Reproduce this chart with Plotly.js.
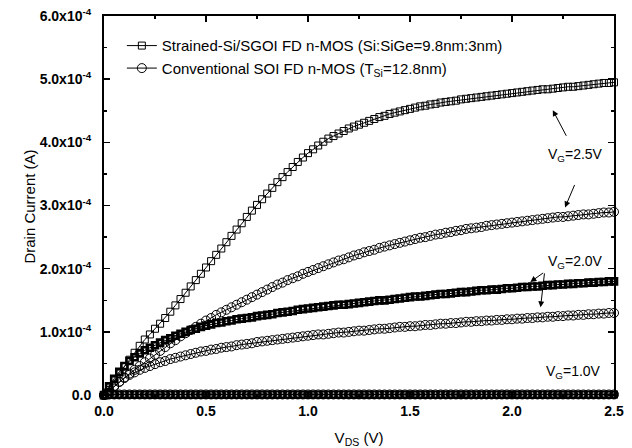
<!DOCTYPE html>
<html><head><meta charset="utf-8">
<script src="https://cdn.plot.ly/plotly-3.0.1.min.js"></script>
<style>html,body{margin:0;padding:0;background:#fff}#chart{width:632px;height:448px}</style>
</head><body><div id="chart"></div>
<script>
// Drain voltage grid (V)
const vds = [0,
 0.025,0.05,0.075,0.1, 0.125,0.15,0.175,0.2, 0.225,0.25,0.275,0.3, 0.325,0.35,0.375,0.4, 0.425,0.45,0.475,0.5,
 0.525,0.55,0.575,0.6, 0.625,0.65,0.675,0.7, 0.725,0.75,0.775,0.8, 0.825,0.85,0.875,0.9, 0.925,0.95,0.975,1.0,
 1.025,1.05,1.075,1.1, 1.125,1.15,1.175,1.2, 1.225,1.25,1.275,1.3, 1.325,1.35,1.375,1.4, 1.425,1.45,1.475,1.5,
 1.525,1.55,1.575,1.6, 1.625,1.65,1.675,1.7, 1.725,1.75,1.775,1.8, 1.825,1.85,1.875,1.9, 1.925,1.95,1.975,2.0,
 2.025,2.05,2.075,2.1, 2.125,2.15,2.175,2.2, 2.225,2.25,2.275,2.3, 2.325,2.35,2.375,2.4, 2.425,2.45,2.475,2.5];

// Drain currents in units of 1e-4 A
const strainedVG25 = [0.00,
 0.12,0.23,0.34,0.45, 0.56,0.67,0.78,0.88, 0.96,1.05,1.13,1.22, 1.32,1.42,1.52,1.62, 1.72,1.82,1.92,2.02,
 2.12,2.22,2.32,2.42, 2.52,2.62,2.72,2.82, 2.92,3.01,3.10,3.19, 3.28,3.37,3.45,3.53, 3.61,3.69,3.76,3.83,
 3.89,3.95,4.01,4.06, 4.10,4.14,4.18,4.22, 4.25,4.28,4.31,4.34, 4.37,4.40,4.42,4.45, 4.47,4.49,4.51,4.53,
 4.55,4.57,4.58,4.60, 4.61,4.63,4.64,4.65, 4.66,4.68,4.69,4.70, 4.71,4.72,4.73,4.74, 4.75,4.76,4.77,4.78,
 4.79,4.80,4.81,4.82, 4.83,4.84,4.84,4.85, 4.86,4.87,4.88,4.88, 4.89,4.90,4.91,4.92, 4.93,4.94,4.94,4.95];

const convVG25 = [0.00,
 0.07,0.14,0.21,0.28, 0.34,0.40,0.46,0.52, 0.58,0.64,0.70,0.76, 0.82,0.87,0.93,0.98, 1.03,1.08,1.13,1.18,
 1.22,1.27,1.31,1.35, 1.39,1.43,1.47,1.51, 1.55,1.59,1.63,1.67, 1.71,1.75,1.78,1.82, 1.85,1.88,1.92,1.95,
 1.98,2.01,2.04,2.07, 2.10,2.13,2.15,2.18, 2.21,2.23,2.26,2.28, 2.30,2.33,2.35,2.37, 2.39,2.41,2.43,2.45,
 2.47,2.49,2.50,2.52, 2.54,2.55,2.57,2.58, 2.60,2.61,2.63,2.64, 2.65,2.66,2.68,2.69, 2.70,2.71,2.72,2.73,
 2.74,2.75,2.76,2.77, 2.78,2.79,2.80,2.81, 2.82,2.82,2.83,2.84, 2.85,2.86,2.86,2.87, 2.88,2.89,2.89,2.90];

const strainedVG20 = [0.00,
 0.14,0.26,0.37,0.46, 0.54,0.60,0.66,0.71, 0.75,0.79,0.83,0.87, 0.90,0.94,0.97,1.00, 1.03,1.05,1.08,1.10,
 1.12,1.14,1.15,1.17, 1.18,1.20,1.21,1.22, 1.23,1.25,1.26,1.27, 1.28,1.30,1.31,1.32, 1.33,1.35,1.36,1.37,
 1.38,1.39,1.40,1.41, 1.42,1.43,1.43,1.44, 1.45,1.46,1.47,1.48, 1.49,1.50,1.50,1.51, 1.52,1.53,1.54,1.55,
 1.56,1.56,1.57,1.58, 1.59,1.60,1.60,1.61, 1.62,1.63,1.63,1.64, 1.65,1.66,1.66,1.67, 1.67,1.68,1.69,1.69,
 1.70,1.71,1.71,1.72, 1.72,1.73,1.74,1.74, 1.75,1.75,1.76,1.76, 1.77,1.77,1.78,1.78, 1.79,1.79,1.80,1.80];

const convVG20 = [0.00,
 0.07,0.14,0.21,0.27, 0.32,0.36,0.40,0.43, 0.46,0.49,0.52,0.54, 0.57,0.59,0.61,0.63, 0.65,0.67,0.69,0.70,
 0.72,0.73,0.75,0.76, 0.77,0.79,0.80,0.81, 0.82,0.84,0.85,0.86, 0.87,0.88,0.89,0.90, 0.91,0.92,0.93,0.94,
 0.95,0.96,0.96,0.97, 0.98,0.99,0.99,1.00, 1.01,1.02,1.02,1.03, 1.04,1.05,1.05,1.06, 1.07,1.08,1.08,1.09,
 1.09,1.10,1.11,1.11, 1.12,1.13,1.13,1.14, 1.14,1.15,1.16,1.16, 1.17,1.17,1.18,1.18, 1.19,1.19,1.20,1.20,
 1.21,1.21,1.22,1.22, 1.23,1.23,1.24,1.24, 1.25,1.25,1.26,1.26, 1.27,1.27,1.28,1.28, 1.29,1.29,1.30,1.30];

const strainedVG10 = [0.00,
 0.01,0.01,0.01,0.01, 0.01,0.01,0.01,0.01, 0.01,0.01,0.01,0.01, 0.01,0.01,0.01,0.01, 0.01,0.01,0.01,0.01,
 0.01,0.01,0.01,0.01, 0.01,0.01,0.01,0.01, 0.01,0.01,0.01,0.01, 0.01,0.01,0.01,0.01, 0.01,0.01,0.01,0.01,
 0.01,0.01,0.01,0.01, 0.01,0.01,0.01,0.01, 0.01,0.01,0.01,0.01, 0.01,0.01,0.01,0.01, 0.01,0.01,0.01,0.01,
 0.01,0.01,0.01,0.01, 0.01,0.01,0.01,0.01, 0.01,0.01,0.01,0.01, 0.01,0.01,0.01,0.01, 0.01,0.01,0.01,0.01,
 0.01,0.01,0.01,0.01, 0.01,0.01,0.01,0.01, 0.01,0.01,0.01,0.01, 0.01,0.01,0.01,0.01, 0.01,0.01,0.01,0.01];

const convVG10 = [0.00,
 0.01,0.01,0.01,0.01, 0.01,0.01,0.01,0.01, 0.01,0.01,0.01,0.01, 0.01,0.01,0.01,0.01, 0.01,0.01,0.01,0.01,
 0.01,0.01,0.01,0.01, 0.01,0.01,0.01,0.01, 0.01,0.01,0.01,0.01, 0.01,0.01,0.01,0.01, 0.01,0.01,0.01,0.01,
 0.01,0.01,0.01,0.01, 0.01,0.01,0.01,0.01, 0.01,0.01,0.01,0.01, 0.01,0.01,0.01,0.01, 0.01,0.01,0.01,0.01,
 0.01,0.01,0.01,0.01, 0.01,0.01,0.01,0.01, 0.01,0.01,0.01,0.01, 0.01,0.01,0.01,0.01, 0.01,0.01,0.01,0.01,
 0.01,0.01,0.01,0.01, 0.01,0.01,0.01,0.01, 0.01,0.01,0.01,0.01, 0.01,0.01,0.01,0.01, 0.01,0.01,0.01,0.01];

const legendNames = [
 "Strained-Si/SGOI FD n-MOS (Si:SiGe=9.8nm:3nm)",
 "Conventional SOI FD n-MOS (T<sub>Si</sub>=12.8nm)"
];
const yTickVals = [0, 1e-4, 2e-4, 3e-4, 4e-4, 5e-4, 6e-4];
const yTickText = ["0.0", "1.0x10<sup>-4</sup>", "2.0x10<sup>-4</sup>", "3.0x10<sup>-4</sup>",
                   "4.0x10<sup>-4</sup>", "5.0x10<sup>-4</sup>", "6.0x10<sup>-4</sup>"];
const xTickVals = [0, 0.5, 1.0, 1.5, 2.0, 2.5];
const xTickText = ["0.0", "0.5", "1.0", "1.5", "2.0", "2.5"];
const gateLabels = ["V<sub>G</sub>=2.5V", "V<sub>G</sub>=2.0V", "V<sub>G</sub>=1.0V"];

const amps = a => a.map(v => v * 1e-4);
const FONT = "Liberation Sans, Arial, sans-serif";

function sq(y, show, name, lw, size, rank) {
  return {x: vds, y: amps(y), type: "scatter", mode: "lines+markers", name: name || "",
    showlegend: !!show, legendrank: rank || 1000, cliponaxis: false,
    line: {color: "#000", width: 1},
    marker: {symbol: "square-open", size: size || 7, color: "#000", line: {color: "#000", width: lw || 1}}};
}
function ci(y, show, name, rank) {
  return {x: vds, y: amps(y), type: "scatter", mode: "lines+markers", name: name || "",
    showlegend: !!show, legendrank: rank || 1000, cliponaxis: false,
    line: {color: "#000", width: 1},
    marker: {symbol: "circle-open", size: 9, color: "#000", line: {color: "#000", width: 1}}};
}

const traces = [
  sq(strainedVG10, false, "", 2, 6),
  ci(convVG10, false),
  ci(convVG20, false),
  ci(convVG25, true, legendNames[1], 2),
  sq(strainedVG20, false, "", 2.6, 6),
  sq(strainedVG25, true, legendNames[0], 1, 7, 1),
];

const arrow = (x, y, ax, ay) => ({x, y, ax, ay, xref: "x", yref: "y", axref: "x", ayref: "y",
  text: "", showarrow: true, arrowhead: 2, arrowsize: 1.2, arrowwidth: 1, arrowcolor: "#000"});
const label = (x, y, t) => ({x, y, xref: "x", yref: "y", text: t, showarrow: false,
  font: {family: FONT, size: 14, color: "#000"}, xanchor: "center", yanchor: "middle"});

const layout = {
  width: 632, height: 448,
  margin: {l: 104, r: 18, t: 16, b: 51},
  paper_bgcolor: "#fff", plot_bgcolor: "#fff",
  font: {family: FONT, color: "#000"},
  showlegend: true,
  legend: {x: 0.035, y: 0.965, xanchor: "left", yanchor: "top", bgcolor: "rgba(0,0,0,0)",
    font: {family: FONT, size: 15, color: "#000"}, tracegroupgap: 0, itemwidth: 30, traceorder: "normal"},
  xaxis: {range: [0, 2.5], tickvals: xTickVals, ticktext: xTickText,
    ticks: "inside", ticklen: 6, tickwidth: 1.5, tickcolor: "#000",
    showline: true, linewidth: 2, linecolor: "#000", mirror: "ticks",
    showgrid: false, zeroline: false,
    tickfont: {family: FONT, size: 14, weight: "bold", color: "#000"},
    minor: {tickmode: "linear", tick0: 0, dtick: 0.25, ticks: "inside", ticklen: 3, tickcolor: "#000", tickwidth: 1.5, showgrid: false},
    title: {text: "V<sub>DS</sub> (V)", font: {family: FONT, size: 15, color: "#000"}}},
  yaxis: {range: [-0.03e-4, 6e-4], tickvals: yTickVals, ticktext: yTickText,
    ticks: "inside", ticklen: 6, tickwidth: 1.5, tickcolor: "#000",
    showline: true, linewidth: 2, linecolor: "#000", mirror: "ticks",
    showgrid: false, zeroline: false, ticklabelstandoff: 8,
    tickfont: {family: FONT, size: 14, weight: "bold", color: "#000"},
    minor: {tickmode: "linear", tick0: 0, dtick: 0.5e-4, ticks: "inside", ticklen: 3, tickcolor: "#000", tickwidth: 1.5, showgrid: false},
    title: {text: "Drain Current (A)", font: {family: FONT, size: 15, color: "#000"}}},
  annotations: [
    label(2.31, 3.8e-4, gateLabels[0]),
    arrow(2.2, 4.51e-4, 2.27, 4.08e-4),
    arrow(2.26, 2.97e-4, 2.31, 3.35e-4),
    label(2.31, 2.1e-4, gateLabels[1]),
    arrow(2.09, 1.79e-4, 2.16, 1.95e-4),
    arrow(2.14, 1.39e-4, 2.16, 1.95e-4),
    label(2.3, 0.36e-4, gateLabels[2])
  ]
};

Plotly.newPlot("chart", traces, layout, {displayModeBar: false, staticPlot: true});
</script>
</body></html>
